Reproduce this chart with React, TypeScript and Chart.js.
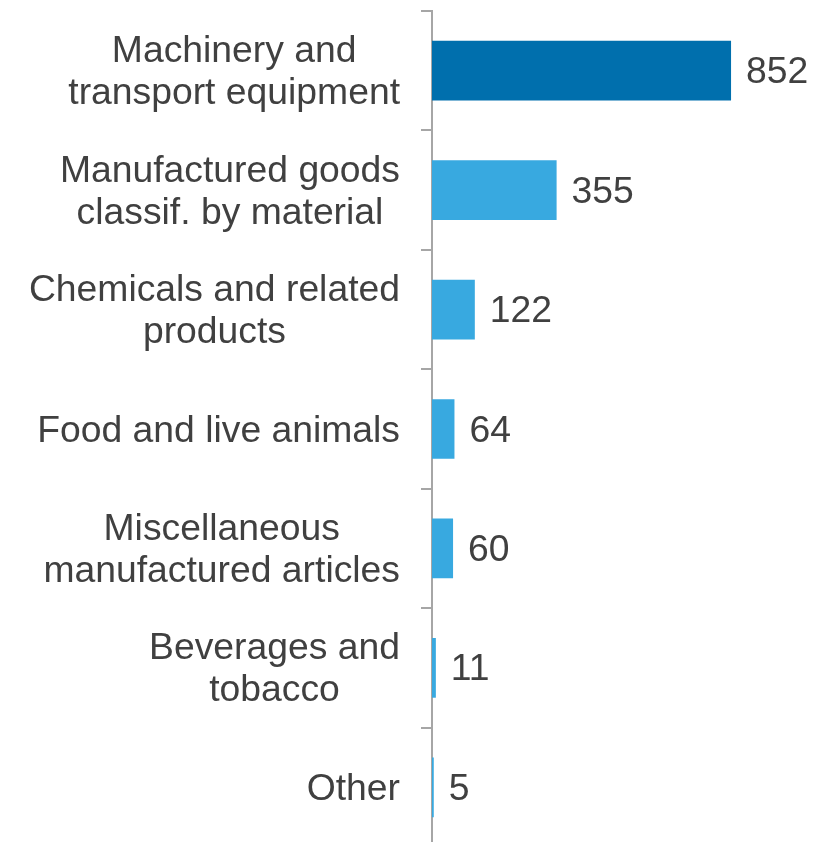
import React, { useEffect, useRef } from 'react';
import { Chart, registerables } from 'chart.js';

Chart.register(...registerables);

const categories: string[][] = [
  ['Machinery and', 'transport equipment'],
  ['Manufactured goods', 'classif. by material'],
  ['Chemicals and related', 'products'],
  ['Food and live animals'],
  ['Miscellaneous', 'manufactured articles'],
  ['Beverages and', 'tobacco'],
  ['Other'],
];
const values: number[] = [852, 355, 122, 64, 60, 11, 5];
const barColors: string[] = ['#006FAD', '#38A9E0', '#38A9E0', '#38A9E0', '#38A9E0', '#38A9E0', '#38A9E0'];

const FONT = '37.3px "Liberation Sans", Arial, sans-serif';
const TEXT_COLOR = '#404040';

const labelPlugin = {
  id: 'customLabels',
  afterDraw(chart: any) {
    const ctx = chart.ctx;
    const yScale = chart.scales.y;
    const xScale = chart.scales.x;
    ctx.save();
    ctx.font = FONT;
    ctx.fillStyle = TEXT_COLOR;
    ctx.textBaseline = 'alphabetic';
    const lineH = 42;
    const baseOff = 12.5;
    const rightEdge = yScale.right - 32;
    categories.forEach((lines, i) => {
      const cy = yScale.getPixelForValue(i);
      const maxW = Math.max(...lines.map((l) => ctx.measureText(l).width));
      const cx = rightEdge - maxW / 2;
      ctx.textAlign = 'center';
      lines.forEach((l, j) => {
        const y = cy - ((lines.length - 1) * lineH) / 2 + j * lineH + baseOff;
        ctx.fillText(l, cx, y);
      });
      ctx.textAlign = 'left';
      const x = xScale.getPixelForValue(values[i]) + 15;
      ctx.fillText(String(values[i]), x, cy + baseOff);
    });
    ctx.restore();
  },
};

export default function App() {
  const ref = useRef<HTMLCanvasElement | null>(null);
  useEffect(() => {
    if (!ref.current) return;
    const chart = new Chart(ref.current, {
      type: 'bar',
      data: {
        labels: categories.map((c) => c.join(' ')),
        datasets: [
          {
            data: values,
            backgroundColor: barColors,
            barPercentage: 0.5,
            categoryPercentage: 1,
          },
        ],
      },
      options: {
        indexAxis: 'y',
        animation: false,
        responsive: false,
        maintainAspectRatio: false,
        layout: { padding: { top: 11, bottom: 3, left: 0, right: 40 } },
        plugins: { legend: { display: false }, tooltip: { enabled: false } },
        scales: {
          x: { display: false, min: 0, max: 1000 },
          y: {
            ticks: { display: false },
            grid: {
              drawOnChartArea: false,
              drawTicks: true,
              tickLength: 11,
              color: '#A6A6A6',
              lineWidth: 2,
            },
            border: { display: true, color: '#A6A6A6', width: 2 },
            afterFit: (scale: any) => {
              scale.width = 432;
            },
          },
        },
      },
      plugins: [labelPlugin],
    });
    return () => chart.destroy();
  }, []);
  return (
    <div style={{ position: 'absolute', left: 0, top: 0, width: 823, height: 850 }}>
      <canvas ref={ref} width={823} height={850} style={{ width: 823, height: 850 }} />
    </div>
  );
}
